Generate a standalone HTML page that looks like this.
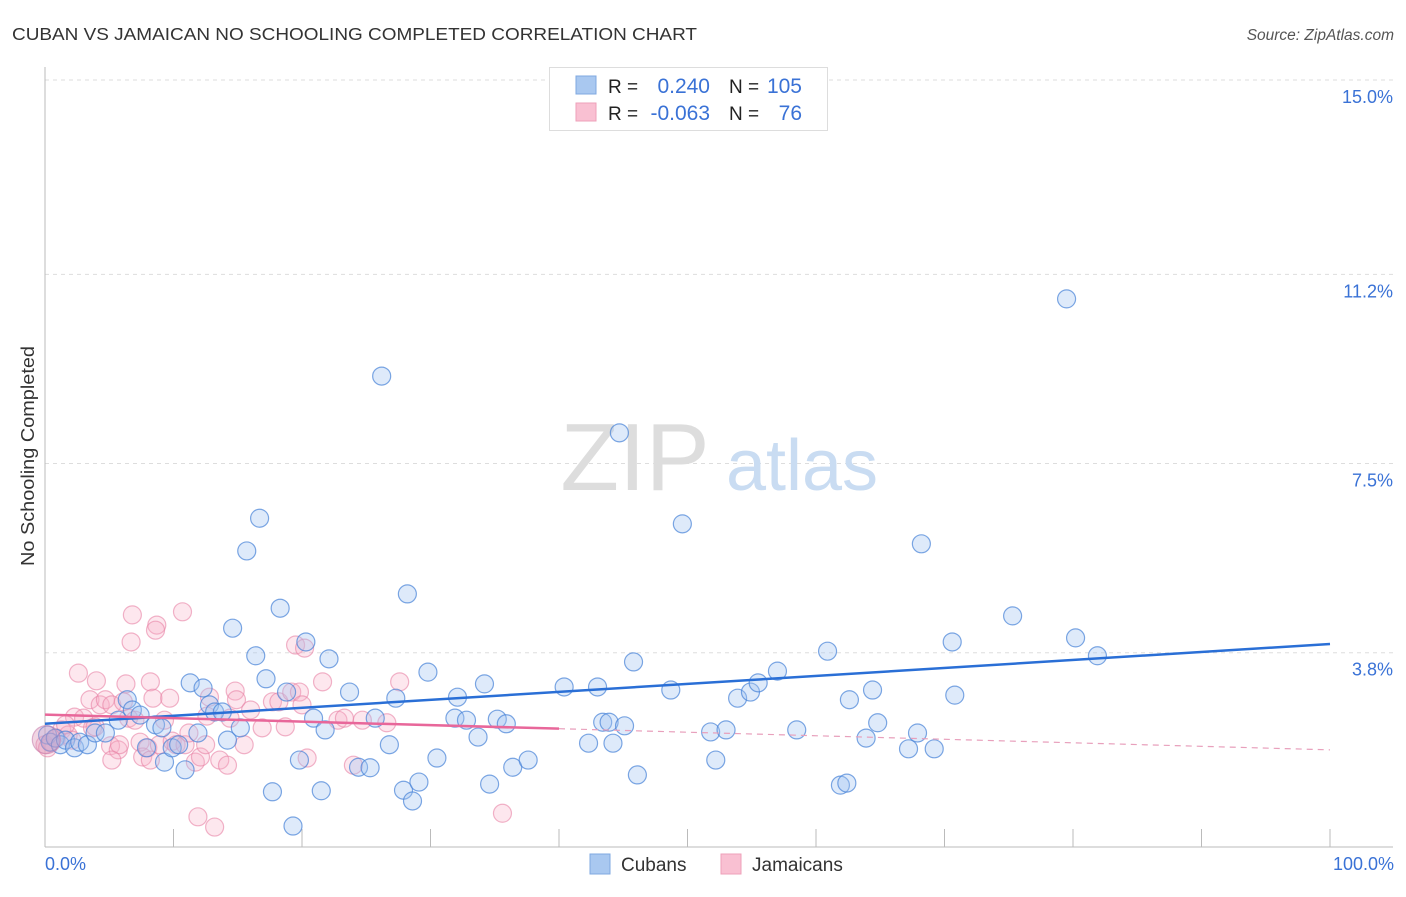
<!DOCTYPE html>
<html><head><meta charset="utf-8"><style>
body{margin:0;background:#fff;font-family:"Liberation Sans",sans-serif;}
svg text{font-family:"Liberation Sans",sans-serif;}
</style></head><body>
<svg id="chart" width="1406" height="892" viewBox="0 0 1406 892">
<text x="12" y="40" font-size="17.5" fill="#333" textLength="685" lengthAdjust="spacingAndGlyphs">CUBAN VS JAMAICAN NO SCHOOLING COMPLETED CORRELATION CHART</text>
<text x="1394" y="40" font-size="15.5" fill="#555" font-style="italic" text-anchor="end">Source: ZipAtlas.com</text>
<text x="34" y="456" font-size="18" fill="#333" transform="rotate(-90 34 456)" text-anchor="middle" textLength="220" lengthAdjust="spacingAndGlyphs">No Schooling Completed</text>
<g id="grid"></g>
<g id="watermark">
<text x="635" y="490" font-size="96" fill="#ddd" font-family="Liberation Serif" text-anchor="middle">ZIP</text>
<text x="802" y="490" font-size="72" fill="#c9dcf2" text-anchor="middle">atlas</text>
</g>
<g id="pts"></g>
<g id="trends"></g>
<g>
<rect x="549.5" y="67.5" width="278" height="63" fill="#fff" stroke="#ddd"/>
<rect x="576" y="76" width="20" height="18" fill="#a9c8f0" stroke="#7fa8e0"/>
<rect x="576" y="103" width="20" height="18" fill="#f9c0d2" stroke="#eea0b9"/>
<text x="608" y="93" font-size="19" fill="#222">R =</text>
<text x="710" y="93" font-size="21" fill="#3a72d6" text-anchor="end">0.240</text>
<text x="729" y="93" font-size="19" fill="#222">N =</text>
<text x="802" y="93" font-size="21" fill="#3a72d6" text-anchor="end">105</text>
<text x="608" y="120" font-size="19" fill="#222">R =</text>
<text x="710" y="120" font-size="21" fill="#3a72d6" text-anchor="end">-0.063</text>
<text x="729" y="120" font-size="19" fill="#222">N =</text>
<text x="802" y="120" font-size="21" fill="#3a72d6" text-anchor="end">76</text>
</g>
<g>
<rect x="590" y="854" width="20" height="20" fill="#a9c8f0" stroke="#7fa8e0"/>
<text x="621" y="871" font-size="19" fill="#333">Cubans</text>
<rect x="721" y="854" width="20" height="20" fill="#f9c0d2" stroke="#eea0b9"/>
<text x="752" y="871" font-size="19" fill="#333">Jamaicans</text>
</g>
<text x="45" y="870" font-size="18" fill="#3a72d6">0.0%</text>
<text x="1394" y="870" font-size="18" fill="#3a72d6" text-anchor="end">100.0%</text>
</svg>
<script>
const yTicks=[15.0,11.2,7.5,3.8];
const yTickLabels=["15.0%","11.2%","7.5%","3.8%"];
const xTicks=[0,10,20,30,40,50,60,70,80,90,100];
const cubanX=[0.2,0.4,0.8,1.2,1.6,2.3,2.7,3.3,3.9,4.7,5.7,6.4,6.8,7.4,7.9,8.6,9.1,9.3,9.9,10.4,10.9,11.3,11.9,12.3,12.8,13.2,13.8,14.2,14.6,15.2,15.7,16.4,16.7,17.2,17.7,18.3,18.8,19.3,19.8,20.3,20.9,21.5,21.8,22.1,23.7,24.4,25.3,25.7,26.2,26.8,27.3,27.9,28.2,28.6,29.1,29.8,30.5,31.9,32.1,32.8,33.7,34.2,34.6,35.2,35.9,36.4,37.6,40.4,42.3,43.0,43.4,43.9,44.2,44.7,45.1,45.8,46.1,48.7,49.6,51.8,52.2,53.0,53.9,54.9,55.5,57.0,58.5,60.9,61.9,62.4,62.6,63.9,64.4,64.8,67.2,67.9,68.2,69.2,70.6,70.8,75.3,79.5,80.2,81.9];
const cubanY=[2.19,2.05,2.13,2.0,2.09,1.94,2.05,2.0,2.23,2.23,2.48,2.88,2.68,2.58,1.94,2.39,2.33,1.66,1.94,2.0,1.51,3.21,2.23,3.11,2.78,2.64,2.64,2.09,4.28,2.33,5.79,3.74,6.43,3.29,1.08,4.67,3.03,0.41,1.70,4.01,2.52,1.10,2.29,3.68,3.03,1.56,1.55,2.52,9.21,2.0,2.91,1.11,4.95,0.90,1.27,3.42,1.74,2.52,2.93,2.48,2.15,3.19,1.23,2.50,2.41,1.56,1.70,3.13,2.03,3.13,2.44,2.44,2.03,8.10,2.37,3.62,1.41,3.07,6.32,2.25,1.70,2.29,2.91,3.03,3.21,3.44,2.29,3.83,1.21,1.25,2.88,2.13,3.07,2.43,1.92,2.23,5.93,1.92,4.01,2.97,4.52,10.72,4.09,3.74];
const jamX=[0.0,0.2,0.5,0.9,1.3,1.8,2.3,2.6,3.0,3.5,3.7,4.0,4.3,4.7,5.1,5.2,5.7,6.1,6.3,6.5,6.8,6.7,7.4,7.6,8.0,8.2,8.4,8.7,8.9,9.3,9.7,9.9,10.2,10.7,10.9,11.2,11.7,11.9,12.1,12.6,12.8,13.2,13.6,14.2,14.8,14.9,15.5,16.0,16.9,17.7,18.2,18.7,19.2,19.5,19.8,20.0,20.4,21.6,22.8,23.3,24.0,24.7,26.6,27.6,35.6,8.6,5.8,7.0,3.9,2.1,1.6,5.2,12.5,8.2,14.4,20.2];
const jamY=[2.0,1.94,2.05,2.13,2.29,2.19,2.54,3.40,2.52,2.88,2.33,3.25,2.78,2.88,1.98,2.78,1.90,2.84,3.19,2.52,4.54,4.01,2.05,1.76,1.94,3.23,2.91,4.34,2.0,2.48,2.91,2.07,2.0,4.60,2.0,2.23,1.66,0.59,1.76,2.56,2.93,0.39,1.70,1.60,3.05,2.88,2.0,2.68,2.33,2.84,2.84,2.35,3.03,3.95,3.03,2.78,1.74,3.23,2.48,2.52,1.60,2.48,2.43,3.23,0.66,4.24,2.0,2.48,2.35,2.09,2.39,1.70,2.0,1.70,2.52,3.89];
const cubanTrend=[2.41,3.97];
const jamTrend=[2.59,1.90];
const jamSolidEnd=40;

const NS="http://www.w3.org/2000/svg";
const X0=45,X1=1330,Y0=847,PXPER=51.13;
function sx(v){return X0+(X1-X0)*v/100;}
function sy(v){return Y0-v*PXPER;}
function mk(tag,attrs,parent){const e=document.createElementNS(NS,tag);for(const k in attrs)e.setAttribute(k,attrs[k]);parent.appendChild(e);return e;}
const grid=document.getElementById('grid');
yTicks.forEach((t,i)=>{
  const l=mk('line',{x1:45,x2:1393,y1:sy(t),y2:sy(t),stroke:'#ddd','stroke-dasharray':'4,4'},grid);
  
  
  const tx=mk('text',{x:1393,y:sy(t)+23,'font-size':18,fill:'#3a72d6','text-anchor':'end'},grid);
  tx.textContent=yTickLabels[i];
  
  
});
const ya=mk('line',{x1:45,x2:45,y1:67,y2:847,stroke:'#bbb'},grid);


const xa=mk('line',{x1:45,x2:1393,y1:847,y2:847,stroke:'#bbb'},grid);


xTicks.forEach(t=>{
  const l=mk('line',{x1:sx(t),x2:sx(t),y1:829,y2:847,stroke:'#bbb'},grid);
  
  
});
const pts=document.getElementById('pts');
function dot(x,y,r,fill,stroke,name){
  const c=mk('circle',{cx:sx(x),cy:sy(y),r:r,fill:fill,stroke:stroke,'stroke-width':1.2},pts);
  
  
}
jamX.forEach((x,i)=>dot(x,jamY[i],9,'rgba(248,175,200,0.3)','rgba(232,130,165,0.6)','jamaican-point'));
cubanX.forEach((x,i)=>dot(x,cubanY[i],9,'rgba(160,196,240,0.35)','rgba(70,130,215,0.7)','cuban-point'));
dot(0.1,2.1,14,'rgba(220,150,185,0.4)','rgba(200,130,175,0.6)','origin-cluster');
const tr=document.getElementById('trends');
const bl=mk('line',{x1:sx(0),y1:sy(cubanTrend[0]),x2:sx(100),y2:sy(cubanTrend[1]),stroke:'#2a6fd6','stroke-width':2.5},tr);


const jmid=jamTrend[0]+(jamTrend[1]-jamTrend[0])*jamSolidEnd/100;
const pl=mk('line',{x1:sx(0),y1:sy(jamTrend[0]),x2:sx(jamSolidEnd),y2:sy(jmid),stroke:'#e8679a','stroke-width':2.5},tr);


const pd=mk('line',{x1:sx(jamSolidEnd),y1:sy(jmid),x2:sx(100),y2:sy(jamTrend[1]),stroke:'#e8a0bc','stroke-width':1.2,'stroke-dasharray':'6,5'},tr);


</script>
</body></html>
